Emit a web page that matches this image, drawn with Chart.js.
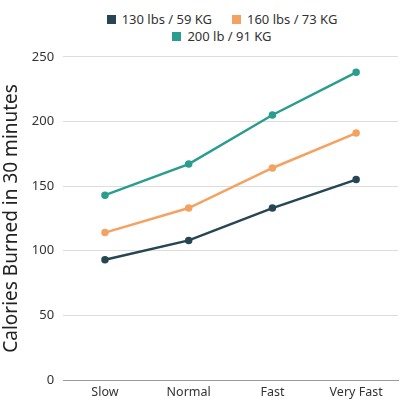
<!DOCTYPE html>
<html>
<head>
<meta charset="utf-8">
<script src="https://cdn.jsdelivr.net/npm/chart.js@4/dist/chart.umd.min.js"></script>
<style>
  html, body { margin: 0; padding: 0; background: #fff; overflow: hidden; }
  #wrap { width: 400px; height: 400px; position: relative; overflow: hidden; }
  #legend {
    position: absolute; top: 11px; left: 90px; width: 264px;
    display: flex; flex-wrap: wrap; justify-content: center;
    font: 13px "Noto Sans", sans-serif; color: #333; line-height: 17px;
  }
  #legend span.item { display: inline-flex; align-items: center; margin: 0 10px; }
  #legend span.box { width: 9px; height: 9px; margin-right: 6px; display: inline-block; }
  #box { position: absolute; top: 40px; left: 0; width: 403px; height: 365px; }
</style>
</head>
<body>
<div id="wrap">
  <div id="legend"></div>
  <div id="box"><canvas id="chart"></canvas></div>
</div>
<script>
// data
const categories = ['Slow', 'Normal', 'Fast', 'Very Fast'];
const seriesNames = ['130 lbs / 59 KG', '160 lbs / 73 KG', '200 lb / 91 KG'];
const light = [93, 108, 133, 155];
const medium = [114, 133, 164, 191];
const heavy = [143, 167, 205, 238];
const yTicks = [0, 50, 100, 150, 200, 250];

const colors = ['#264653', '#f4a261', '#2a9d8f'];
const values = [light, medium, heavy];

const datasets = values.map((data, i) => ({
    label: seriesNames[i],
    data: data,
    borderColor: colors[i],
    backgroundColor: colors[i],
    borderWidth: 2.5,
    pointRadius: 2.5,
    pointHoverRadius: 2.5,
    tension: 0,
}));

// legend above the canvas, wraps into two rows like the original
const legendEl = document.getElementById('legend');
seriesNames.forEach((name, i) => {
    const item = document.createElement('span');
    item.className = 'item';
    const box = document.createElement('span');
    box.className = 'box';
    box.style.background = colors[i];
    item.appendChild(box);
    item.appendChild(document.createTextNode(name));
    legendEl.appendChild(item);
});

const ctx = document.getElementById('chart').getContext('2d');
new Chart(ctx, {
    type: 'line',
    data: { labels: categories, datasets: datasets },
    options: {
        responsive: true,
        maintainAspectRatio: false,
        animation: false,
        layout: { padding: 0 },
        plugins: {
            legend: { display: false },
            tooltip: { enabled: false },
        },
        scales: {
            x: {
                offset: true,
                grid: { display: false, drawTicks: false },
                border: { color: '#9a9a9a', width: 1 },
                ticks: { color: '#333', padding: 5, font: { family: 'Noto Sans', size: 12.5 } },
            },
            y: {
                min: 0,
                max: 250,
                afterBuildTicks: (axis) => { axis.ticks = yTicks.map(v => ({ value: v })); },
                grid: { color: '#dddddd', drawTicks: false },
                border: { display: false },
                ticks: { color: '#333', padding: 9, font: { family: 'Noto Sans', size: 13 } },
                title: {
                    display: true,
                    text: 'Calories Burned in 30 minutes',
                    color: '#222',
                    padding: { top: 0, bottom: 0 },
                    font: { family: 'Noto Sans', size: 19 },
                },
            },
        },
    },
});
</script>
</body>
</html>
